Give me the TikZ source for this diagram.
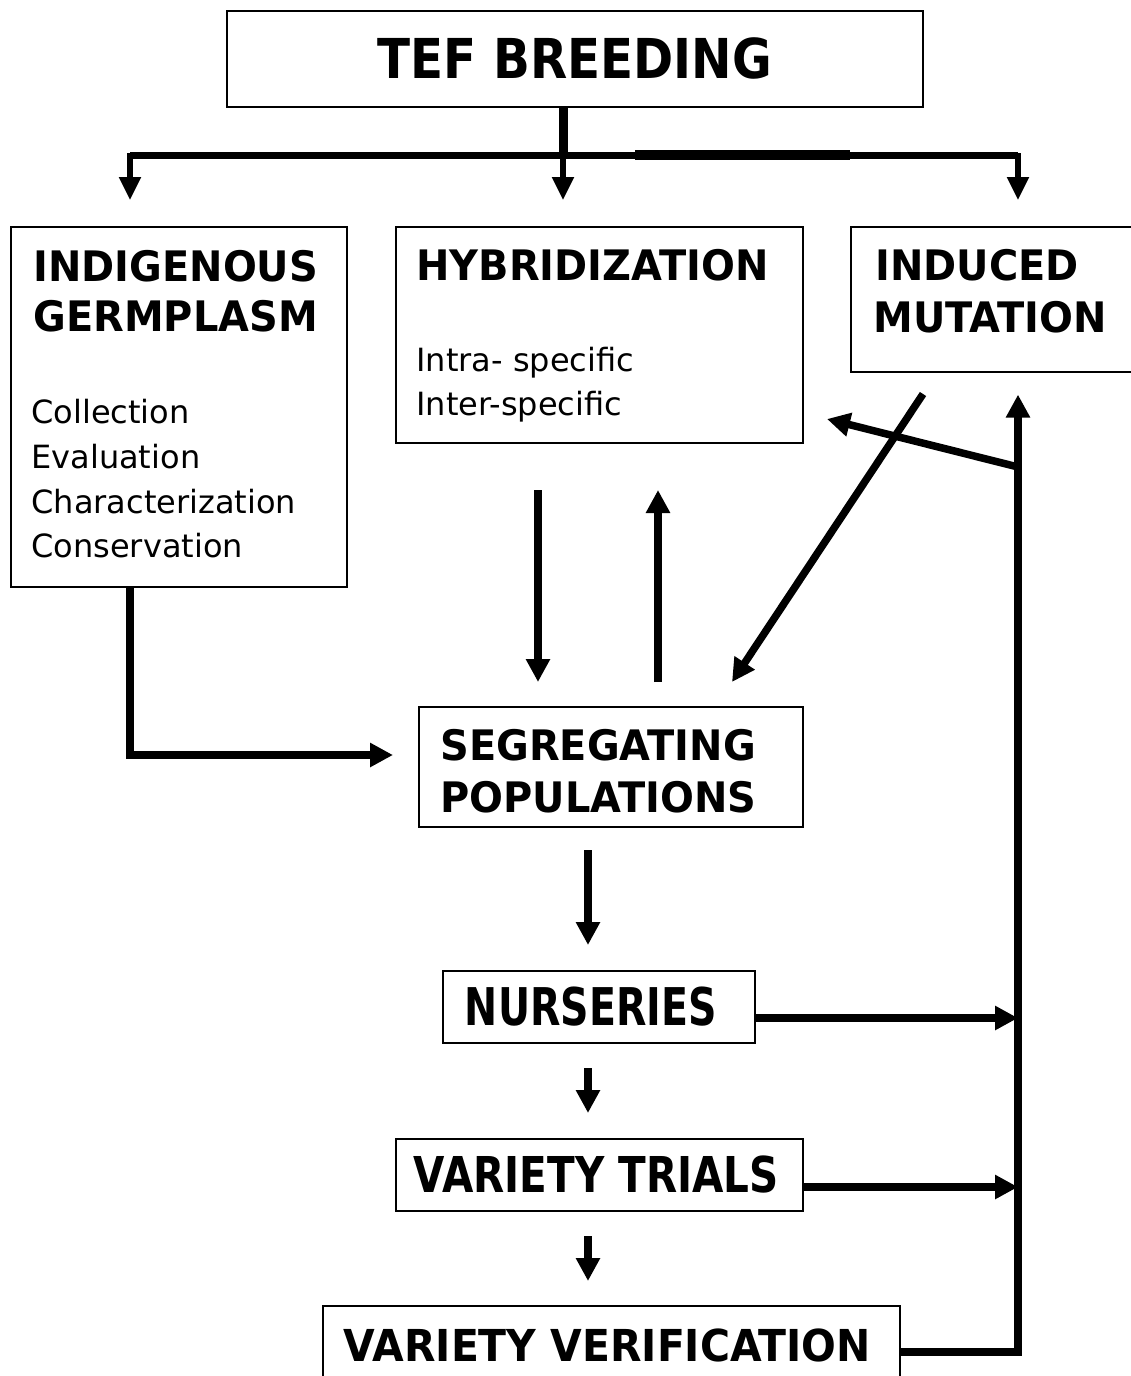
\documentclass[tikz,border=0pt]{standalone}
\usepackage{fontspec}
\setmainfont{DejaVu Sans}
\newfontfamily\hdfont[FakeStretch=0.95]{DejaVu Sans}
\newfontfamily\teffont[FakeStretch=0.88]{DejaVu Sans}
\newfontfamily\nurfont[FakeStretch=0.76]{DejaVu Sans}
\newfontfamily\vtfont[FakeStretch=0.82]{DejaVu Sans}
\newfontfamily\vvfont[FakeStretch=0.93]{DejaVu Sans}
\usetikzlibrary{arrows.meta,calc}
\begin{document}
\begin{tikzpicture}[x=0.5pt,y=-0.5pt,
  box/.style={draw, line width=0.8pt, inner sep=0, anchor=north west},
  hd/.style={inner sep=0, anchor=base west, font=\hdfont\bfseries\fontsize{21}{25}\selectfont},
  rg/.style={inner sep=0, anchor=base west, font=\fontsize{16}{19}\selectfont},
  conn/.style={line width=3.75pt, -{Triangle[width=11.5pt,length=11.5pt]}},
  topconn/.style={line width=2.6pt, -{Triangle[width=10.5pt,length=11.5pt]}},
  bar/.style={line width=3.5pt},
]
\useasboundingbox (0,0) rectangle (1130,1376);

% boxes
\node[box, minimum width=348pt, minimum height=48pt,
      font=\teffont\bfseries\fontsize{27.5}{30}\selectfont] (tef) at (226,10) {TEF BREEDING};
\node[box, minimum width=168pt, minimum height=180pt] (indig) at (10,226) {};
\node[box, minimum width=203.5pt, minimum height=108pt] (hyb) at (395,226) {};
\node[box, minimum width=145pt, minimum height=72.5pt] (ind) at (850,226) {};
\node[box, minimum width=192pt, minimum height=60pt] (seg) at (418,706) {};
\node[box, minimum width=156pt, minimum height=36pt,
      font=\nurfont\bfseries\fontsize{26}{30}\selectfont] (nur) at (442,970) {NURSERIES\kern8pt};
\node[box, minimum width=203.5pt, minimum height=36pt,
      font=\vtfont\bfseries\fontsize{24.7}{28}\selectfont] (vt) at (395,1138) {VARIETY TRIALS\kern3pt};
\node[box, minimum width=288.5pt, minimum height=40pt,
      font=\vvfont\bfseries\fontsize{22}{26}\selectfont] (vv) at (322,1305) {VARIETY VERIFICATION\kern4pt};

% texts in multi-line boxes
\node[hd] (t1) at (33,281) {INDIGENOUS};
\node[hd] (t2) at (33,331) {GERMPLASM};
\node[rg] (t3) at (31,423) {Collection};
\node[rg] (t4) at (31,468) {Evaluation};
\node[rg] (t5) at (31,513) {Characterization};
\node[rg] (t6) at (31,557) {Conservation};
\node[hd] (t7) at (416,280) {HYBRIDIZATION};
\node[rg] (t8) at (416,371) {Intra- specific};
\node[rg] (t9) at (416,415) {Inter-specific};
\node[hd] (t10) at (875,280) {INDUCED};
\node[hd] (t11) at (873,332) {MUTATION};
\node[hd] (t12) at (440,760) {SEGREGATING};
\node[hd] (t13) at (440,812) {POPULATIONS};

% coordinates
\coordinate (tj) at (563,155);
\coordinate (tl) at (130,155);
\coordinate (tr) at (1018,155);
\coordinate (d1) at (538,490);
\coordinate (d2) at (538,682);
\coordinate (u1) at (658,682);
\coordinate (u2) at (658,490);
\coordinate (m1) at (923,394);
\coordinate (m2) at (732,682);
\coordinate (bk) at (1018,467);
\coordinate (bt) at (827,419);
\coordinate (ic) at (130,755);
\coordinate (rn) at (1018,1018);
\coordinate (rt) at (1018,1187);
\coordinate (rv) at (1018,1352);
\coordinate (a1) at (588,850);
\coordinate (a2) at (588,1068);
\coordinate (a3) at (588,1236);

% top distribution
\draw[line width=4.5pt] (tef.south -| tj) -- (tj);
\draw[bar] (tl) -- (tr);
\draw[line width=4.6pt] (635,155) -- (850,155);
\draw[topconn, shorten >=13pt] ([yshift=1pt]tl) -- (indig.north -| tl);
\draw[topconn, shorten >=13pt] (tj) -- (hyb.north -| tj);
\draw[topconn, shorten >=13pt] ([yshift=1pt]tr) -- (ind.north -| tr);

% hybridization <-> segregating
\draw[conn] (d1) -- (d2);
\draw[conn] (u1) -- (u2);
\draw[conn] (m1) -- (m2);
\draw[conn] (bk) -- (bt);

% indigenous -> segregating
\draw[conn, shorten >=12.5pt] (indig.south -| ic) -- (ic) -- (seg.west |- ic);

% main column
\draw[conn, shorten >=12.5pt] (a1) -- (a1 |- nur.north);
\draw[conn, shorten >=12.5pt] (a2) -- (a2 |- vt.north);
\draw[conn, shorten >=12pt] (a3) -- (a3 |- vv.north);

% feedback to the right
\draw[conn] (nur.east |- rn) -- (rn);
\draw[conn] (vt.east |- rt) -- (rt);
\draw[conn, shorten >=11pt] (vv.east |- rv) -- (rv) -- (rv |- ind.south);
\end{tikzpicture}
\end{document}
